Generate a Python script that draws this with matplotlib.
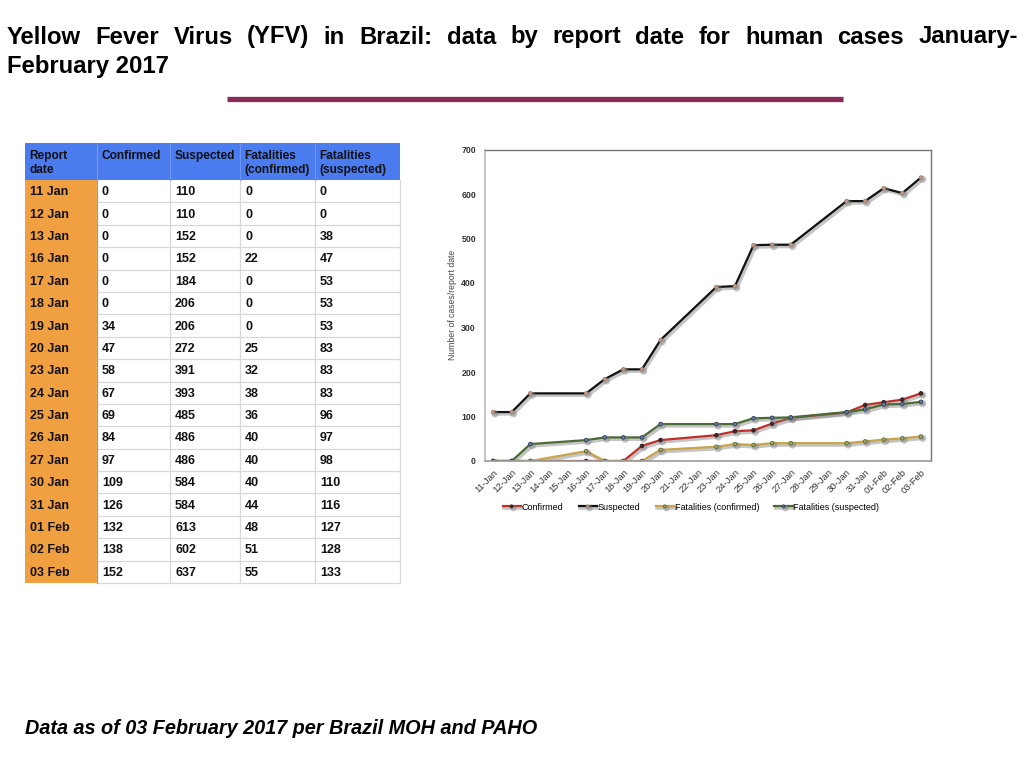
import matplotlib
matplotlib.use("Agg")
import matplotlib.pyplot as plt
import matplotlib.dates as mdates
import matplotlib.patheffects as pe
from matplotlib.patches import Rectangle
import pandas as pd

plt.rcParams['font.family'] = ['Liberation Sans', 'DejaVu Sans']

# ---- data ----
report_dates = ["11 Jan", "12 Jan", "13 Jan", "16 Jan", "17 Jan", "18 Jan", "19 Jan",
                "20 Jan", "23 Jan", "24 Jan", "25 Jan", "26 Jan", "27 Jan", "30 Jan",
                "31 Jan", "01 Feb", "02 Feb", "03 Feb"]
confirmed = [0, 0, 0, 0, 0, 0, 34, 47, 58, 67, 69, 84, 97, 109, 126, 132, 138, 152]
suspected = [110, 110, 152, 152, 184, 206, 206, 272, 391, 393, 485, 486, 486, 584, 584, 613, 602, 637]
fatal_confirmed = [0, 0, 0, 22, 0, 0, 0, 25, 32, 38, 36, 40, 40, 40, 44, 48, 51, 55]
fatal_suspected = [0, 0, 38, 47, 53, 53, 53, 83, 83, 83, 96, 97, 98, 110, 116, 127, 128, 133]
column_headers = ["Report\ndate", "Confirmed", "Suspected", "Fatalities\n(confirmed)", "Fatalities\n(suspected)"]
series_names = ["Confirmed", "Suspected", "Fatalities (confirmed)", "Fatalities (suspected)"]
y_ticks = [0, 100, 200, 300, 400, 500, 600, 700]

title_line1 = "Yellow Fever Virus (YFV) in Brazil: data by report date for human cases January-"
title_line2 = "February 2017"
footer = "Data as of 03 February 2017 per Brazil MOH and PAHO"

dates = pd.to_datetime([d + " 2017" for d in report_dates], format="%d %b %Y")

fig = plt.figure(figsize=(10.24, 7.68), dpi=100)
bg = fig.add_axes([0, 0, 1, 1])
bg.set_xlim(0, 1024)
bg.set_ylim(768, 0)
bg.axis("off")

# ---- title (justified first line) ----
renderer = fig.canvas.get_renderer()
words = title_line1.split(" ")
tfs = 17.2
arts = [bg.text(0, 43.5, w, fontsize=tfs, fontweight="bold", va="baseline", ha="left") for w in words]
widths = [a.get_window_extent(renderer=renderer).width for a in arts]
x0, x1 = 7, 1018
gap = (x1 - x0 - sum(widths)) / (len(words) - 1)
x = x0
for a, w in zip(arts, widths):
    a.set_x(x)
    x += w + gap
bg.text(x0, 73.5, title_line2, fontsize=tfs, fontweight="bold", va="baseline", ha="left")

# decorative rule
bg.plot([227, 843], [98.5, 98.5], color="#8B2A57", lw=3.8, solid_capstyle="butt")

# ---- table ----
col_edges = [25, 97, 170, 240, 315, 400]
head_top, head_bot = 143, 180
row_h = (583 - 180) / len(report_dates)
blue = "#4A7BEF"
orange = "#F0A040"
grid = "#D8D8D8"
bg.add_patch(Rectangle((col_edges[0], head_top), col_edges[-1] - col_edges[0], head_bot - head_top,
                       facecolor=blue, edgecolor="none"))
bg.add_patch(Rectangle((col_edges[0], head_bot), col_edges[1] - col_edges[0], row_h * len(report_dates),
                       facecolor=orange, edgecolor="none"))
for i, h in enumerate(column_headers):
    bg.text(col_edges[i] + 4.5, head_top + 7, h, fontsize=8.6, fontweight="bold", va="top", ha="left",
            color="#111111", linespacing=1.2)
rows = list(zip(report_dates, confirmed, suspected, fatal_confirmed, fatal_suspected))
for r, row in enumerate(rows):
    top = head_bot + r * row_h
    cy = top + row_h / 2
    for c, val in enumerate(row):
        bg.text(col_edges[c] + 5, cy + 1, str(val), fontsize=9, fontweight="bold", va="center",
                ha="left", color="#111111")
    bg.plot([col_edges[1], col_edges[-1]], [top + row_h, top + row_h], color=grid, lw=0.9)
for xe in col_edges[1:]:
    bg.plot([xe, xe], [head_bot, head_bot + row_h * len(report_dates)], color=grid, lw=0.9)
bg.plot([col_edges[1], col_edges[1]], [head_top, head_bot + row_h * len(report_dates)], color="#9a9a9a", lw=0.8)
for xe in col_edges[2:-1]:
    bg.plot([xe, xe], [head_top, head_bot], color="#6f95f2", lw=0.8)

# ---- footer ----
bg.text(25, 729, footer, fontsize=14.3, fontweight="bold", fontstyle="italic", va="center", ha="left")

# ---- chart ----
L, R, T, B = 485, 931, 149.5, 461
ax = fig.add_axes([L / 1024, 1 - B / 768, (R - L) / 1024, (B - T) / 768])
styles = [
    dict(color="#C0302A", mfc="#4a2626", mec="#2a1a1a"),
    dict(color="#111111", mfc="#c09a8c", mec="#a08070"),
    dict(color="#C9A448", mfc="#a8a860", mec="#5a6a30"),
    dict(color="#4A6B33", mfc="#6a80a8", mec="#2a3a5a"),
]
series = [confirmed, suspected, fatal_confirmed, fatal_suspected]
shadow = [pe.SimpleLineShadow(offset=(1.3, -1.3), shadow_color="#808080", alpha=0.45, linewidth=2.6), pe.Normal()]
for name, vals, st in zip(series_names, series, styles):
    ax.plot(dates, vals, color=st["color"], lw=1.6, marker="o", markersize=2.6,
            markerfacecolor=st["mfc"], markeredgecolor=st["mec"], markeredgewidth=0.6,
            label=name, path_effects=shadow)

start = pd.Timestamp("2017-01-11")
end = pd.Timestamp("2017-02-03")
ax.set_xlim(start - pd.Timedelta(hours=10.5), end + pd.Timedelta(hours=13))
ax.set_ylim(0, 700)
ax.set_yticks(y_ticks)
ax.xaxis.set_major_locator(mdates.DayLocator())
ax.xaxis.set_major_formatter(mdates.DateFormatter("%d-%b"))
ax.tick_params(axis="x", length=0, labelsize=6.8, pad=5, labelcolor="#333333")
ax.tick_params(axis="y", length=0, labelsize=6.3, pad=6.5, labelcolor="#333333")
for lbl in ax.get_xticklabels():
    lbl.set_rotation(45)
    lbl.set_ha("right")
    lbl.set_rotation_mode("anchor")
for lbl in ax.get_yticklabels():
    lbl.set_fontweight("bold")
ax.set_ylabel("Number of cases/report date", fontsize=6.2, color="#444444", labelpad=3)
for s in ["top", "right"]:
    ax.spines[s].set_color("#777777")
    ax.spines[s].set_linewidth(1.0)
ax.spines["left"].set_color("#bbbbbb")
ax.spines["bottom"].set_color("#999999")
ax.spines["left"].set_linewidth(1.2)
ax.spines["bottom"].set_linewidth(1.2)

leg = ax.legend(loc="center", bbox_to_anchor=((691 - L) / (R - L), -(507 - B) / (B - T)),
                ncol=4, frameon=False, fontsize=6.5, handlelength=2.0, handletextpad=0.1,
                columnspacing=1.7, markerscale=0.8)

fig.savefig("out.png", dpi=100)
